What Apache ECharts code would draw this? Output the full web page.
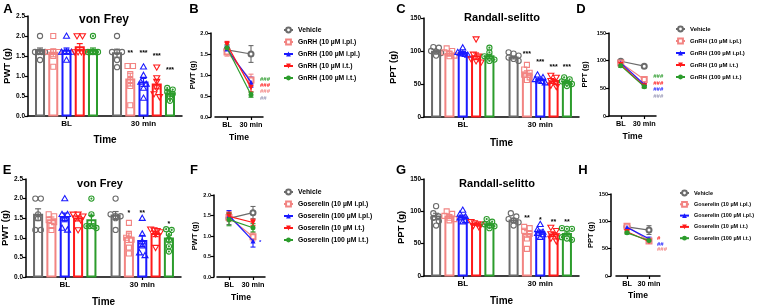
<!DOCTYPE html>
<html><head><meta charset="utf-8">
<script src="https://cdn.jsdelivr.net/npm/echarts@6/dist/echarts.min.js"></script>
<style>html,body{margin:0;padding:0;background:#fff}#c{width:767px;height:308px}</style>
</head><body><div id="c"></div><script>
const FONT = '"Liberation Sans", Arial, Helvetica, sans-serif';
const timeCats = ['BL', '30 min'];
const gnrhNames = ['Vehicle', 'GnRH (10 µM i.pl.)', 'GnRH (100 µM i.pl.)', 'GnRH (10 µM i.t.)', 'GnRH (100 µM i.t.)'];
const gosNames = ['Vehicle', 'Goserelin (10 µM i.pl.)', 'Goserelin (100 µM i.pl.)', 'Goserelin (10 µM i.t.)', 'Goserelin (100 µM i.t.)'];
const colors = ['#6b6b6b', '#f28482', '#1a1aff', '#ff1a1a', '#2c9c2c'];
const hashGrey = '#9a9ab8';

// ---- Panel A: von Frey, GnRH (per group: [BL, 30 min]) ----
const aMean = [[1.63, 1.57], [1.58, 0.91], [1.63, 0.84], [1.72, 0.79], [1.63, 0.56]];
const aSem = [[0.07, 0.1], [0.1, 0.16], [0.07, 0.1], [0.09, 0.11], [0.07, 0.06]];
const aPts = [
  [[2.0, 1.6, 1.6, 1.6, 1.6, 1.4], [2.0, 1.6, 1.6, 1.6, 1.4, 1.22]],
  [[2.0, 1.6, 1.6, 1.6, 1.5, 1.23], [1.25, 1.25, 1.05, 0.9, 0.75, 0.27]],
  [[2.0, 1.6, 1.6, 1.6, 1.6, 1.4], [1.23, 1.02, 0.85, 0.8, 0.7, 0.45]],
  [[2.0, 2.0, 1.6, 1.6, 1.6, 1.6], [1.22, 0.95, 0.86, 0.7, 0.55, 0.48]],
  [[2.0, 1.6, 1.6, 1.6, 1.6, 1.6], [0.7, 0.66, 0.6, 0.55, 0.48, 0.38]]
];
const aSigText = ['**', '***', '***', '***'];
const aSigGroup = [1, 2, 3, 4];
const aSigVal = [1.57, 1.57, 1.51, 1.14];

// ---- Panel B: von Frey time course, GnRH ----
const bMean = [[1.6, 1.5], [1.55, 0.88], [1.62, 0.83], [1.72, 0.7], [1.65, 0.53]];
const bSem = [[0.06, 0.2], [0.1, 0.14], [0.07, 0.12], [0.08, 0.1], [0.07, 0.06]];
const bSigText = ['###', '###', '###', '##'];
const bSigColor = [colors[4], colors[3], colors[1], hashGrey];
const bSigVal = [0.89, 0.75, 0.61, 0.44];

// ---- Panel C: Randall-selitto, GnRH ----
const cMean = [[99, 90], [96, 66], [97, 57], [92, 54], [92, 53]];
const cSem = [[2, 2], [3, 4], [2, 2], [5, 3], [3, 2]];
const cPts = [
  [[106, 105, 100, 99, 97, 93], [98, 96, 93, 90, 88, 85]],
  [[104, 100, 98, 96, 93, 92], [79, 72, 67, 64, 60, 56]],
  [[105, 98, 97, 96, 95, 94], [64, 60, 57, 55, 54, 52]],
  [[118, 95, 92, 88, 85, 83], [63, 60, 55, 52, 48, 46]],
  [[105, 98, 92, 90, 87, 85], [60, 57, 54, 52, 50, 47]]
];
const cSigText = ['***', '***', '***', '***'];
const cSigGroup = [1, 2, 3, 4];
const cSigVal = [95, 83, 75.5, 75.5];

// ---- Panel D: Randall-selitto time course, GnRH ----
const dMean = [[99, 90], [96, 66], [96, 57], [93, 54], [91, 53]];
const dSem = [[2, 2], [3, 4], [2, 2], [4, 3], [3, 2]];
const dSigText = ['###', '###', '###', '###'];
const dSigColor = [colors[4], colors[3], colors[2], hashGrey];
const dSigVal = [71, 59, 48, 35];

// ---- Panel E: von Frey, Goserelin ----
const eMean = [[1.59, 1.57], [1.45, 1.0], [1.52, 0.92], [1.49, 1.1], [1.45, 0.98]];
const eSem = [[0.15, 0.1], [0.08, 0.12], [0.11, 0.14], [0.06, 0.07], [0.12, 0.09]];
const ePts = [
  [[2.0, 2.0, 1.6, 1.5, 1.2, 1.2], [2.0, 1.6, 1.55, 1.55, 1.5, 1.2]],
  [[1.6, 1.55, 1.45, 1.4, 1.3, 1.2], [1.38, 1.1, 1.0, 0.95, 0.75, 0.6]],
  [[2.0, 1.6, 1.6, 1.5, 1.25, 1.2], [1.5, 1.1, 0.9, 0.8, 0.62, 0.55]],
  [[1.6, 1.6, 1.55, 1.5, 1.45, 1.2], [1.22, 1.2, 1.18, 1.15, 1.1, 0.75]],
  [[2.0, 1.6, 1.3, 1.3, 1.3, 1.25], [1.22, 1.2, 1.1, 0.95, 0.78, 0.65]]
];
const eSigText = ['*', '**', '*'];
const eSigGroup = [1, 2, 4];
const eSigVal = [1.63, 1.63, 1.35];

// ---- Panel F: von Frey time course, Goserelin ----
const fMean = [[1.43, 1.57], [1.45, 0.98], [1.5, 0.88], [1.48, 1.33], [1.4, 1.2]];
const fSem = [[0.15, 0.15], [0.1, 0.1], [0.12, 0.15], [0.1, 0.08], [0.15, 0.1]];
const fSigText = ['*'];
const fSigColor = [colors[2]];
const fSigVal = [0.84];

// ---- Panel G: Randall-selitto, Goserelin ----
const gMean = [[92, 86], [92, 65], [91, 68], [80, 64], [80, 65]];
const gSem = [[5, 3], [3, 5], [3, 3], [1.5, 3], [2, 3]];
const gPts = [
  [[108, 97, 92, 90, 85, 78], [97, 92, 88, 86, 83, 78]],
  [[100, 96, 93, 90, 88, 86], [76, 74, 70, 65, 58, 42]],
  [[102, 96, 92, 90, 86, 84], [80, 72, 68, 66, 64, 60]],
  [[84, 82, 80, 80, 78, 76], [75, 70, 65, 62, 58, 54]],
  [[88, 84, 80, 78, 77, 74], [74, 73, 73, 60, 58, 56]]
];
const gSigText = ['**', '*', '**', '**'];
const gSigGroup = [1, 2, 3, 4];
const gSigVal = [90, 86, 82.7, 82.7];

// ---- Panel H: Randall-selitto time course, Goserelin ----
const hMean = [[90, 84], [91, 64], [89, 68], [81, 63], [79, 65]];
const hSem = [[3, 8], [2, 3], [3, 3], [2, 3], [2, 2]];
const hSigText = ['#', '##', '###'];
const hSigColor = [colors[3], colors[2], colors[1]];
const hSigVal = [68.6, 57.6, 48.5];

// ================= build =================
const grids = [], xAxes = [], yAxes = [], series = [], legends = [], graphics = [];

function axisStyle() {
  return { show: true, lineStyle: { color: '#000', width: 1.5 } };
}

function symbolShape(g, x, y, col) {
  const lw = 1.1;
  if (g === 0) return { type: 'circle', shape: { cx: x, cy: y, r: 2.6 }, style: { fill: 'transparent', stroke: col, lineWidth: lw } };
  if (g === 1) return { type: 'rect', shape: { x: x - 2.5, y: y - 2.5, width: 5, height: 5 }, style: { fill: 'transparent', stroke: col, lineWidth: lw } };
  if (g === 2) return { type: 'polygon', shape: { points: [[x, y - 3], [x + 3, y + 2.2], [x - 3, y + 2.2]] }, style: { fill: 'transparent', stroke: col, lineWidth: lw } };
  if (g === 3) return { type: 'polygon', shape: { points: [[x - 3, y - 2.2], [x + 3, y - 2.2], [x, y + 3]] }, style: { fill: 'transparent', stroke: col, lineWidth: lw } };
  return { type: 'group', children: [
    { type: 'circle', shape: { cx: x, cy: y, r: 2.6 }, style: { fill: 'transparent', stroke: col, lineWidth: lw } },
    { type: 'circle', shape: { cx: x, cy: y, r: 1.1 }, style: { fill: col } }
  ] };
}

function barCenter(api, cat, g) {
  const p0 = api.coord([cat, 0]);
  const band = api.coord([1, 0])[0] - api.coord([0, 0])[0];
  return { cx: p0[0] + (g - 2) * band * 0.172, w: band * 0.13, y0: p0[1] };
}

function addBarPanel(idx, rect, yMax, yInt, dec, yName, yNameGap, xNameGap, means, sems, pts, sigText, sigGroup, sigVal) {
  grids.push({ left: rect[0], top: rect[1], width: rect[2], height: rect[3], outerBoundsMode: 'none', containLabel: false });
  xAxes.push({
    gridIndex: idx, type: 'category', data: timeCats, boundaryGap: true,
    axisLine: axisStyle(), axisTick: { show: true, alignWithLabel: true, interval: 0, length: 3, lineStyle: { color: '#000', width: 1.2 } },
    axisLabel: { interval: 0, fontSize: 8, fontWeight: 'bold', color: '#000', fontFamily: FONT, margin: 4 },
    name: 'Time', nameLocation: 'middle', nameGap: xNameGap,
    nameTextStyle: { fontSize: 10, fontWeight: 'bold', color: '#000', fontFamily: FONT, verticalAlign: 'top' }
  });
  yAxes.push({
    gridIndex: idx, type: 'value', min: 0, max: yMax, interval: yInt,
    axisLine: axisStyle(), axisTick: { show: true, length: 3, lineStyle: { color: '#000', width: 1.2 } },
    splitLine: { show: false },
    axisLabel: { fontSize: 6.5, fontWeight: 'bold', color: '#000', fontFamily: FONT, margin: 3, formatter: v => v.toFixed(dec) },
    name: yName, nameLocation: 'middle', nameGap: yNameGap, nameRotate: 90,
    nameTextStyle: { fontSize: 9.5, fontWeight: 'bold', color: '#000', fontFamily: FONT }
  });
  for (let g = 0; g < 5; g++) {
    const col = colors[g];
    series.push({
      type: 'custom', xAxisIndex: idx, yAxisIndex: idx, silent: true, clip: false,
      data: [[0, means[g][0], sems[g][0]], [1, means[g][1], sems[g][1]]],
      renderItem: function (params, api) {
        const cat = api.value(0), mean = api.value(1), s = api.value(2);
        const b = barCenter(api, cat, g);
        const pm = api.coord([cat, mean])[1];
        const ch = [];
        ch.push({ type: 'rect', shape: { x: b.cx - b.w / 2 + 1, y: pm, width: b.w - 2, height: b.y0 - pm - 0.5 }, style: { fill: '#fff', stroke: col, lineWidth: 2 } });
        const lo = api.coord([cat, mean - s])[1], hi = api.coord([cat, mean + s])[1];
        ch.push({ type: 'line', shape: { x1: b.cx, y1: lo, x2: b.cx, y2: hi }, style: { stroke: col, lineWidth: 1.2 } });
        ch.push({ type: 'line', shape: { x1: b.cx - 3, y1: hi, x2: b.cx + 3, y2: hi }, style: { stroke: col, lineWidth: 1.2 } });
        ch.push({ type: 'line', shape: { x1: b.cx - 3, y1: lo, x2: b.cx + 3, y2: lo }, style: { stroke: col, lineWidth: 1.2 } });
        const vals = pts[g][cat].slice().sort((a, c) => c - a);
        const ys = vals.map(v => api.coord([cat, v])[1]);
        let i = 0;
        while (i < ys.length) {
          let j = i;
          while (j + 1 < ys.length && ys[j + 1] - ys[i] < 3.5) j++;
          const n = j - i + 1;
          const sp = n > 1 ? Math.min(5.5, 10 / (n - 1)) : 0;
          for (let k = i; k <= j; k++) {
            ch.push(symbolShape(g, b.cx + (k - i - (n - 1) / 2) * sp, ys[k], col));
          }
          i = j + 1;
        }
        return { type: 'group', children: ch };
      },
      z: 2 + g
    });
  }
  series.push({
    type: 'custom', xAxisIndex: idx, yAxisIndex: idx, silent: true, clip: false,
    data: sigVal.map((v, i) => [1, v, sigGroup[i], i]),
    renderItem: function (params, api) {
      const b = barCenter(api, 1, api.value(2));
      const y = api.coord([1, api.value(1)])[1];
      return { type: 'text', x: b.cx, y: y, style: { text: sigText[api.value(3)], fill: '#000', font: 'bold 7px ' + FONT, align: 'center', verticalAlign: 'middle' } };
    },
    z: 20
  });
}

const lineSymbols = ['emptyCircle', 'emptyRect', 'triangle', 'path://M0,0L10,0L5,9Z', 'circle'];

function addLinePanel(idx, rect, yOffset, yMax, yInt, dec, yName, yNameGap, xNameGap, names, means, sems, sigText, sigColor, sigVal, sigDx, legPos, legFont, legGap) {
  grids.push({ left: rect[0], top: rect[1], width: rect[2], height: rect[3], outerBoundsMode: 'none', containLabel: false });
  xAxes.push({
    gridIndex: idx, type: 'category', data: timeCats, boundaryGap: true,
    axisLine: axisStyle(), axisTick: { show: true, alignWithLabel: true, interval: 0, length: 3, lineStyle: { color: '#000', width: 1.2 } },
    axisLabel: { interval: 0, fontSize: 7.3, fontWeight: 'bold', color: '#000', fontFamily: FONT, margin: 4 },
    name: 'Time', nameLocation: 'middle', nameGap: xNameGap,
    nameTextStyle: { fontSize: 8.6, fontWeight: 'bold', color: '#000', fontFamily: FONT, verticalAlign: 'top' }
  });
  yAxes.push({
    gridIndex: idx, type: 'value', min: 0, max: yMax, interval: yInt, offset: yOffset,
    axisLine: axisStyle(), axisTick: { show: true, length: 3, lineStyle: { color: '#000', width: 1.2 } },
    splitLine: { show: false },
    axisLabel: { fontSize: 5.5, fontWeight: 'bold', color: '#000', fontFamily: FONT, margin: 3, formatter: v => v.toFixed(dec) },
    name: yName, nameLocation: 'middle', nameGap: yNameGap, nameRotate: 90,
    nameTextStyle: { fontSize: 7.5, fontWeight: 'bold', color: '#000', fontFamily: FONT }
  });
  for (let g = 0; g < 5; g++) {
    const col = colors[g];
    series.push({
      type: 'custom', xAxisIndex: idx, yAxisIndex: idx, silent: true, clip: false,
      data: [[0, means[g][0], sems[g][0]], [1, means[g][1], sems[g][1]]],
      renderItem: function (params, api) {
        const cat = api.value(0), mean = api.value(1), s = api.value(2);
        const x = api.coord([cat, mean])[0];
        const lo = api.coord([cat, mean - s])[1], hi = api.coord([cat, mean + s])[1];
        return { type: 'group', children: [
          { type: 'line', shape: { x1: x, y1: lo, x2: x, y2: hi }, style: { stroke: col, lineWidth: 1.1 } },
          { type: 'line', shape: { x1: x - 2.5, y1: hi, x2: x + 2.5, y2: hi }, style: { stroke: col, lineWidth: 1.1 } },
          { type: 'line', shape: { x1: x - 2.5, y1: lo, x2: x + 2.5, y2: lo }, style: { stroke: col, lineWidth: 1.1 } }
        ] };
      },
      z: 2
    });
  }
  for (let g = 0; g < 5; g++) {
    series.push({
      type: 'line', name: names[g], xAxisIndex: idx, yAxisIndex: idx,
      data: means[g].slice(), symbol: lineSymbols[g], symbolSize: g === 3 ? 5.5 : 5, showSymbol: true,
      lineStyle: { color: colors[g], width: 1.2 }, itemStyle: { color: colors[g], borderWidth: 1.1 },
      emphasis: { disabled: true }, silent: true, z: 3 + g
    });
  }
  series.push({
    type: 'custom', xAxisIndex: idx, yAxisIndex: idx, silent: true, clip: false,
    data: sigVal.map((v, i) => [1, v, i]),
    renderItem: function (params, api) {
      const p = api.coord([1, api.value(1)]);
      const i = api.value(2);
      return { type: 'text', x: p[0] + sigDx, y: p[1], style: { text: sigText[i], fill: sigColor[i], font: 'bold 6px ' + FONT, align: 'left', verticalAlign: 'middle' } };
    },
    z: 20
  });
  legends.push({
    orient: 'vertical', left: legPos[0], top: legPos[1], padding: 0,
    itemWidth: 9, itemHeight: 6, itemGap: legGap, selectedMode: false, align: 'left',
    textStyle: { fontSize: legFont, fontWeight: 'bold', color: '#000', fontFamily: FONT, lineHeight: 8 },
    data: names.slice()
  });
}

addBarPanel(0, [28, 16, 154, 100], 2.5, 0.5, 1, 'PWT (g)', 15.5, 19, aMean, aSem, aPts, aSigText, aSigGroup, aSigVal);
addLinePanel(1, [215, 33, 48, 84], 4, 2.0, 0.5, 1, 'PWT (g)', 11, 16.5, gnrhNames, bMean, bSem, bSigText, bSigColor, bSigVal, 9, [283, 26], 6.8, 4);
addBarPanel(2, [424, 18, 155, 99], 150, 50, 0, 'PPT (g)', 26, 21, cMean, cSem, cPts, cSigText, cSigGroup, cSigVal);
addLinePanel(3, [609, 33, 47, 83], 0, 150, 50, 0, 'PPT (g)', 20, 16.5, gnrhNames, dMean, dSem, dSigText, dSigColor, dSigVal, 9, [675, 25], 6, 4);
addBarPanel(4, [26, 179, 155, 98], 2.5, 0.5, 1, 'PWT (g)', 13, 20, eMean, eSem, ePts, eSigText, eSigGroup, eSigVal);
addLinePanel(5, [217, 195, 48, 82], 3, 2.0, 0.5, 1, 'PWT (g)', 15, 16.5, gosNames, fMean, fSem, fSigText, fSigColor, fSigVal, 6, [283, 188], 6.8, 4);
addBarPanel(6, [424, 179, 155, 97], 150, 50, 0, 'PPT (g)', 17, 20, gMean, gSem, gPts, gSigText, gSigGroup, gSigVal);
addLinePanel(7, [616, 194, 44, 82], 5, 150, 50, 0, 'PPT (g)', 15, 15.5, gosNames, hMean, hSem, hSigText, hSigColor, hSigVal, 8, [679, 189], 5.5, 3.3);

function txt(t, x, y, size) {
  return { type: 'text', x: x, y: y, silent: true, style: { text: t, fill: '#000', font: 'bold ' + size + 'px ' + FONT, align: 'center', verticalAlign: 'middle' } };
}
graphics.push(
  txt('A', 8, 9, 13), txt('B', 194, 9, 13), txt('C', 401, 9, 13), txt('D', 581, 9, 13),
  txt('E', 7, 170, 13), txt('F', 194, 170, 13), txt('G', 401, 170, 13), txt('H', 583, 170, 13),
  txt('von Frey', 104, 20, 12), txt('Randall-selitto', 502, 18, 11),
  txt('von Frey', 100, 184, 11), txt('Randall-selitto', 497, 184, 11)
);

const chart = echarts.init(document.getElementById('c'), null, { renderer: 'canvas' });
chart.setOption({
  animation: false,
  backgroundColor: '#fff',
  grid: grids, xAxis: xAxes, yAxis: yAxes, legend: legends, series: series, graphic: graphics
});
</script></body></html>
